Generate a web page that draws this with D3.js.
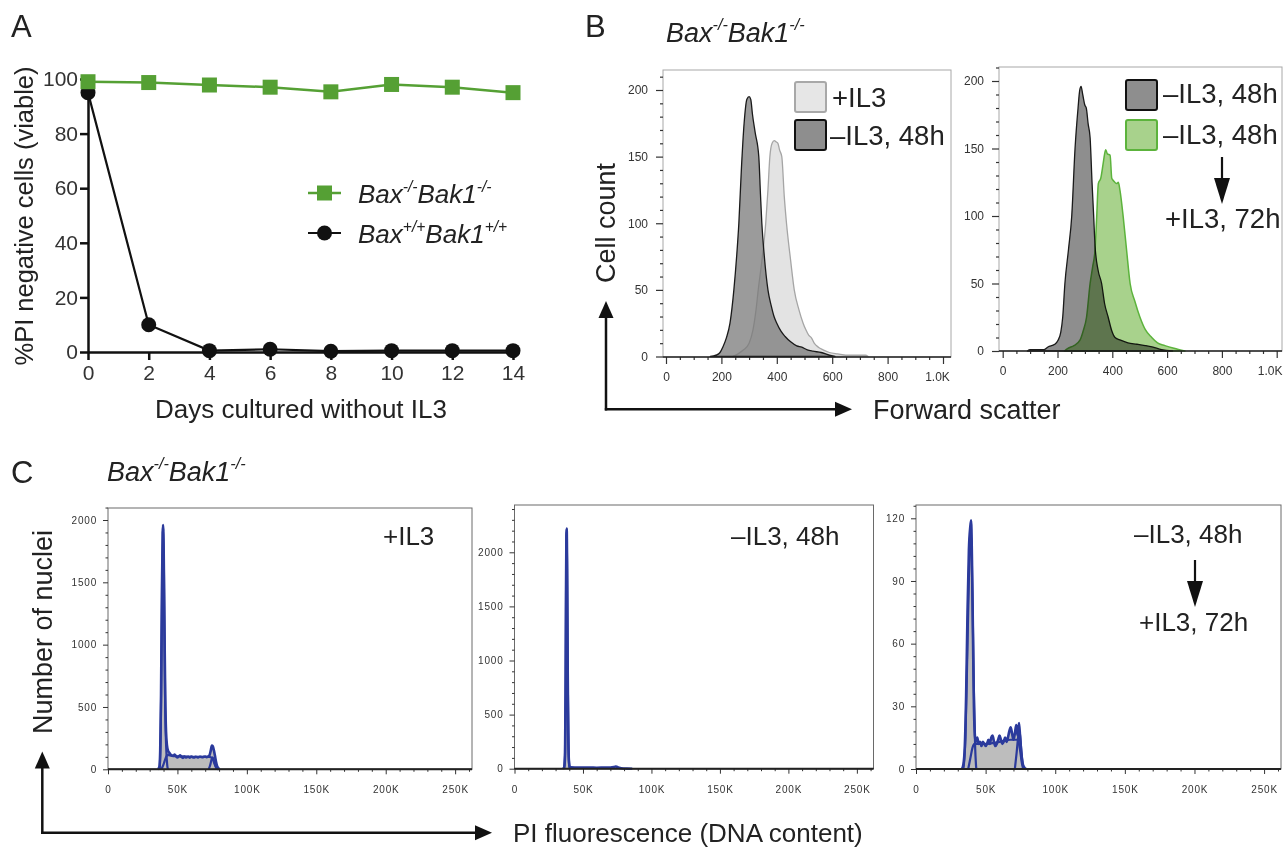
<!DOCTYPE html>
<html><head><meta charset="utf-8">
<script src="https://cdn.jsdelivr.net/npm/d3@7"></script>
<style>html,body{margin:0;padding:0;background:#fff;}svg{display:block;}</style>
</head><body>
<svg id="fig" width="1285" height="847"></svg>
<script>
// ================= DATA =================
// Panel A: viability time course
const daysA = [0, 2, 4, 6, 8, 10, 12, 14];
const viableKO = [99, 98.7, 97.8, 97, 95.3, 98, 97, 95];
const viableWT = [95, 10, 0.5, 1, 0.3, 0.5, 0.5, 0.5];
const yTicksA = [0, 20, 40, 60, 80, 100];

// Panel B: forward-scatter histograms [FSC, count]
const fscTicks = [0, 200, 400, 600, 800, 1000];
const fscTickLabels = ["0", "200", "400", "600", "800", "1.0K"];
const countTicksB = [0, 50, 100, 150, 200];
const fscPlusIL3 = [[240,0],[260,2],[280,5],[300,10],[314,20],[325,35],[333,50],[345,70],[360,100],[368,125],[375,150],[383,160],[391,162],[398,161],[404,160],[410,155],[418,150],[427,120],[435,100],[450,72],[463,50],[480,35],[495,25],[505,20],[515,16],[525,14],[535,10],[550,7],[567,5],[590,3],[620,2],[660,1],[720,1],[730,0]];
const fscMinusIL3 = [[160,0],[180,1],[195,3],[205,7],[218,14],[231,25],[245,50],[255,75],[263,100],[272,140],[282,175],[292,193],[300,195],[306,193],[312,182],[322,168],[335,150],[341,122],[346,100],[355,75],[368,50],[380,38],[390,30],[400,25],[415,19],[430,15],[450,11],[472,8],[490,7],[510,5],[530,4],[560,3],[590,1],[610,0]];
const fscMinusIL3b = [[90,0],[100,1],[150,1],[165,3],[190,5],[202,8],[212,14],[219,25],[227,50],[240,75],[252,100],[264,150],[275,180],[281,193],[286,196],[292,190],[300,182],[305,180],[312,168],[319,158],[326,125],[332,100],[337,78],[348,60],[361,50],[372,35],[385,25],[398,15],[410,10],[430,8],[457,6],[490,5],[520,4],[545,3],[580,1],[620,0]];
const fscReIL3 = [[225,0],[238,2],[260,4],[282,8],[294,15],[306,25],[319,50],[328,62],[337,75],[343,99],[349,124],[358,128],[366,138],[372,146],[376,149],[382,146],[392,145],[398,128],[405,126],[416,124],[422,125],[428,119],[440,99],[452,75],[465,50],[482,37],[501,25],[520,16],[544,10],[565,6],[592,4],[625,2],[665,0]];

// Panel C: DNA content histograms [PI (K), count] and cell-cycle model fits
const piTicks = [0, 50, 100, 150, 200, 250];
const piTickLabels = ["0", "50K", "100K", "150K", "200K", "250K"];
const nucTicksBig = [0, 500, 1000, 1500, 2000];
const nucTicksSmall = [0, 30, 60, 90, 120];
const piPlusIL3 = [[0,0],[36,0],[37,20],[37.6,150],[38.2,600],[38.8,1400],[39.4,1900],[39.7,1960],[40.1,1750],[40.6,1200],[41.2,600],[41.8,300],[42.5,190],[43.2,150],[44,135],[45,120],[46,112],[47,108],[48,118],[49,105],[50,96],[51,104],[52,112],[53,98],[54,92],[55,102],[56,95],[57,98],[58,100],[59,94],[60,103],[61,97],[62,95],[63,100],[64,98],[65,96],[66,101],[67,99],[68,97],[69,100],[70,103],[71,98],[72,102],[73,110],[74,150],[74.8,190],[75.5,185],[76.3,150],[77,110],[77.8,60],[78.6,25],[79.5,8],[80.5,0],[262,0]];
const g1PlusIL3 = [[37.2,0],[38,300],[38.8,1200],[39.5,1900],[39.9,1930],[40.5,1300],[41.2,500],[42,150],[42.8,20],[43.2,0]];
const sPlusIL3 = [[38.5,0],[40,40],[41.5,90],[43,115],[46,108],[52,104],[60,100],[68,99],[73,100],[75,90],[76.5,50],[78,10],[79,0]];
const g2PlusIL3 = [[72.5,0],[73.5,30],[74.5,75],[75.3,95],[76.2,75],[77.2,35],[78.5,5],[79.5,0]];
const piMinusIL3 = [[0,0],[35.5,0],[36.3,15],[36.9,120],[37.3,700],[37.6,1600],[37.9,2150],[38.1,2220],[38.4,1900],[38.8,1000],[39.2,350],[39.7,80],[40.3,20],[41.2,12],[45,11],[50,10],[55,10],[60,9],[65,10],[70,11],[72.5,15],[73.8,20],[75,16],[76.5,8],[78,4],[82,1],[86,0],[262,0]];
const g1MinusIL3 = [[36.2,0],[36.9,150],[37.4,900],[37.9,2150],[38.1,2210],[38.5,1700],[39,700],[39.6,120],[40.2,0]];
const piReIL3 = [[0,0],[33,0],[34,2],[35,10],[36,35],[37,75],[38,105],[39,116],[39.6,119],[40.2,100],[40.9,65],[41.6,30],[42.3,16],[43,13],[44,15],[45,12],[46,13],[47,11],[48,13],[49,12],[50,11],[51,12],[52,14],[53,12],[54,15],[55,16],[56,13],[57,11],[58,12],[59,14],[60,16],[61,14],[62,12],[63,13],[64,15],[65,13],[66,15],[67,18],[68,20],[69,17],[70,14],[71,17],[72,21],[73,16],[74,22],[74.8,15],[75.6,8],[76.5,3],[77.5,1],[79,0],[262,0]];
const g1ReIL3 = [[34,0],[35.5,15],[37,60],[38.3,100],[39.5,112],[40.5,85],[41.5,40],[42.5,10],[43.3,0]];
const sReIL3 = [[37.5,0],[39,5],[40.5,10],[42,12],[50,12],[60,13],[68,14],[73,14],[74.5,10],[76,3],[77,0]];
const g2ReIL3 = [[71,0],[72.3,8],[73.5,16],[74.5,18],[75.5,10],[76.5,3],[77.5,0]];

// ================= DRAWING =================
const FONT = "Arial, 'Liberation Sans', Helvetica, sans-serif";
const INK = "#222";
const GREEN = "#55a034";
const BLUE = "#2b3a9c";
const svg = d3.select("#fig").attr("font-family", FONT);

function txt(x, y, s, size, opts = {}) {
  const t = svg.append("text").attr("x", x).attr("y", y).attr("font-size", size)
    .attr("fill", opts.fill || INK).text(s);
  if (opts.anchor) t.attr("text-anchor", opts.anchor);
  if (opts.rotate) t.attr("transform", `rotate(-90,${x},${y})`).attr("dominant-baseline", "central");
  return t;
}
function geno(x, y, size, parts) {
  const t = svg.append("text").attr("x", x).attr("y", y).attr("font-size", size)
    .attr("font-style", "italic").attr("fill", INK);
  let raised = false;
  const rise = size * 0.42;
  parts.forEach(([s, sup]) => {
    const ts = t.append("tspan").text(s);
    if (sup) ts.attr("font-size", size * 0.6);
    if (sup && !raised) { ts.attr("dy", -rise); raised = true; }
    else if (!sup && raised) { ts.attr("dy", rise); raised = false; }
  });
  return t;
}
function arrow(x1, y1, x2, y2, head, half, sw) {
  const dx = x2 - x1, dy = y2 - y1, L = Math.hypot(dx, dy);
  const ux = dx / L, uy = dy / L;
  const bx = x2 - ux * head, by = y2 - uy * head;
  svg.append("line").attr("x1", x1).attr("y1", y1).attr("x2", bx + ux).attr("y2", by + uy)
    .attr("stroke", "#111").attr("stroke-width", sw);
  svg.append("path").attr("d", `M${x2},${y2}L${bx - uy * half},${by + ux * half}L${bx + uy * half},${by - ux * half}Z`)
    .attr("fill", "#111");
}

// ---------- Panel A ----------
const xA = d3.scaleLinear().domain([0, 14]).range([88, 513]);
const yA = d3.scaleLinear().domain([0, 100]).range([352, 79]);
const gA = svg.append("g");
const axYA = gA.append("g").attr("transform", "translate(88,0)")
  .call(d3.axisLeft(yA).tickValues(yTicksA).tickSize(8).tickSizeOuter(0).tickPadding(2));
const axXA = gA.append("g").attr("transform", "translate(0,352)")
  .call(d3.axisBottom(xA).tickValues(daysA).tickSize(8).tickSizeOuter(0).tickPadding(5));
[axYA, axXA].forEach(a => {
  a.attr("font-family", FONT).attr("font-size", 21);
  a.selectAll("text").attr("fill", "#333");
  a.selectAll("line,path").attr("stroke", "#111").attr("stroke-width", 2.5);
});
const lineA = d3.line().x((d, i) => xA(daysA[i])).y(d => yA(d));
gA.append("path").attr("d", lineA(viableWT)).attr("fill", "none").attr("stroke", "#111").attr("stroke-width", 2.2);
gA.selectAll("circle.wt").data(viableWT).join("circle").attr("class", "wt")
  .attr("cx", (d, i) => xA(daysA[i])).attr("cy", d => yA(d)).attr("r", 7.5).attr("fill", "#111");
gA.append("path").attr("d", lineA(viableKO)).attr("fill", "none").attr("stroke", GREEN).attr("stroke-width", 2.5);
gA.selectAll("rect.ko").data(viableKO).join("rect").attr("class", "ko")
  .attr("x", (d, i) => xA(daysA[i]) - 7.5).attr("y", d => yA(d) - 7.5)
  .attr("width", 15).attr("height", 15).attr("fill", GREEN);
// legend A
gA.append("line").attr("x1", 308).attr("x2", 341).attr("y1", 193).attr("y2", 193).attr("stroke", GREEN).attr("stroke-width", 2.5);
gA.append("rect").attr("x", 317).attr("y", 185.5).attr("width", 15).attr("height", 15).attr("fill", GREEN);
gA.append("line").attr("x1", 308).attr("x2", 341).attr("y1", 233).attr("y2", 233).attr("stroke", "#111").attr("stroke-width", 2.2);
gA.append("circle").attr("cx", 324.5).attr("cy", 233).attr("r", 7.5).attr("fill", "#111");
geno(358, 203, 26, [["Bax", false], ["-/-", true], ["Bak1", false], ["-/-", true]]);
geno(358, 243, 26, [["Bax", false], ["+/+", true], ["Bak1", false], ["+/+", true]]);
txt(23.5, 216, "%PI negative cells (viable)", 25.5, { anchor: "middle", rotate: true });
txt(301, 418, "Days cultured without IL3", 26, { anchor: "middle" });
txt(11, 37, "A", 31);

// ---------- Flow helpers ----------
function flowAxes(g, fr, x, y, o) {
  g.append("rect").attr("x", fr.l).attr("y", fr.t).attr("width", fr.r - fr.l).attr("height", fr.b - fr.t)
    .attr("fill", "none").attr("stroke", o.frameColor).attr("stroke-width", 1);
}
function flowTicks(g, fr, x, y, o) {
  const yMaj = g.append("g").attr("transform", `translate(${fr.l},0)`)
    .call(d3.axisLeft(y).tickValues(o.yMajor).tickSize(o.majLen).tickPadding(o.yPad).tickFormat(d3.format("d")));
  const yMin = g.append("g").attr("transform", `translate(${fr.l},0)`)
    .call(d3.axisLeft(y).tickValues(o.yMinor).tickSize(o.minLen).tickFormat(""));
  const xMaj = g.append("g").attr("transform", `translate(0,${fr.b})`)
    .call(d3.axisBottom(x).tickValues(o.xMajor).tickSize(o.majLen).tickPadding(o.xPad)
      .tickFormat(d => o.xLabels[o.xMajor.indexOf(d)]));
  const xMin = g.append("g").attr("transform", `translate(0,${fr.b})`)
    .call(d3.axisBottom(x).tickValues(o.xMinor).tickSize(o.minLen).tickFormat(""));
  [yMaj, yMin, xMaj, xMin].forEach(a => {
    a.select(".domain").remove();
    a.attr("font-family", FONT).attr("font-size", o.fontSize);
    a.selectAll("line").attr("stroke", o.tickColor).attr("stroke-width", o.tickWidth);
    a.selectAll("text").attr("fill", "#333").attr("letter-spacing", o.ls || 0);
  });
  g.append("line").attr("x1", fr.l).attr("x2", fr.r).attr("y1", fr.b).attr("y2", fr.b)
    .attr("stroke", o.axisColor).attr("stroke-width", o.axisWidth);
  return { xMaj, yMaj };
}
function histArea(g, data, x, y, fill, stroke, sw, extra) {
  const area = d3.area().x(d => x(d[0])).y0(y(0)).y1(d => y(d[1])).curve(d3.curveMonotoneX);
  const p = g.append("path").attr("d", area(data)).attr("fill", fill).attr("stroke", stroke)
    .attr("stroke-width", sw).attr("stroke-linejoin", "round");
  if (extra) extra(p);
  return p;
}
function histLine(g, data, x, y, stroke, sw) {
  const line = d3.line().x(d => x(d[0])).y(d => y(d[1])).curve(d3.curveMonotoneX);
  return g.append("path").attr("d", line(data)).attr("fill", "none").attr("stroke", stroke)
    .attr("stroke-width", sw).attr("stroke-linejoin", "round");
}

// ---------- Panel B ----------
const minorFsc = d3.range(0, 1001, 50).filter(v => !fscTicks.includes(v));
const minorCountB = d3.range(0, 211, 10).filter(v => !countTicksB.includes(v));
const optB = { frameColor: "#a8a8a8", yMajor: countTicksB, yMinor: minorCountB, xMajor: fscTicks, xLabels: fscTickLabels,
  xMinor: minorFsc, majLen: 7, minLen: 3, yPad: 8, xPad: 8, fontSize: 12, tickColor: "#333", tickWidth: 1.2,
  axisColor: "#222", axisWidth: 1.6 };

const frBL = { l: 663, r: 951, t: 70, b: 357 };
const xBL = d3.scaleLinear().domain([0, 1000]).range([666, 943]);
const yBL = d3.scaleLinear().domain([0, 200]).range([356.5, 90]);
const gBL = svg.append("g");
flowAxes(gBL, frBL, xBL, yBL, optB);
histArea(gBL, fscPlusIL3, xBL, yBL, "#e3e3e3", "#a5a5a5", 1.3);
histArea(gBL, fscMinusIL3, xBL, yBL, "#7a7a7a", "#1a1a1a", 1.3, p => p.attr("fill-opacity", 0.75));
const tBL = flowTicks(gBL, frBL, xBL, yBL, optB);
tBL.xMaj.selectAll("text").filter(d => d === 1000).attr("dx", -6);

const frBR = { l: 999, r: 1282, t: 67, b: 351 };
const xBR = d3.scaleLinear().domain([0, 1000]).range([1002.7, 1276.7]);
const yBR = d3.scaleLinear().domain([0, 200]).range([351, 81]);
const gBR = svg.append("g");
flowAxes(gBR, frBR, xBR, yBR, optB);
histArea(gBR, fscMinusIL3b, xBR, yBR, "#8e8e8e", "#1a1a1a", 1.3);
histArea(gBR, fscReIL3, xBR, yBR, "#a8d28c", "#5cb33c", 1.5, p => p.style("mix-blend-mode", "multiply"));
const tBR = flowTicks(gBR, frBR, xBR, yBR, optB);
tBR.xMaj.selectAll("text").filter(d => d === 1000).attr("dx", -7);

// legends B
svg.append("rect").attr("x", 795).attr("y", 82).attr("width", 31).attr("height", 30).attr("rx", 2)
  .attr("fill", "#e6e6e6").attr("stroke", "#a8a8a8").attr("stroke-width", 2);
svg.append("rect").attr("x", 795).attr("y", 120).attr("width", 31).attr("height", 30).attr("rx", 2)
  .attr("fill", "#8e8e8e").attr("stroke", "#111").attr("stroke-width", 2);
txt(832, 107, "+IL3", 27.5);
txt(830, 145, "\u2013IL3, 48h", 27.5);
svg.append("rect").attr("x", 1126).attr("y", 80).attr("width", 31).attr("height", 30).attr("rx", 2)
  .attr("fill", "#8e8e8e").attr("stroke", "#111").attr("stroke-width", 2);
svg.append("rect").attr("x", 1126).attr("y", 120).attr("width", 31).attr("height", 30).attr("rx", 2)
  .attr("fill", "#a8d28c").attr("stroke", "#5cb33c").attr("stroke-width", 2);
txt(1163, 103, "\u2013IL3, 48h", 27.5);
txt(1163, 144, "\u2013IL3, 48h", 27.5);
arrow(1222, 157, 1222, 204, 26, 8, 2.2);
txt(1165, 228, "+IL3, 72h", 27.5);

txt(585, 37, "B", 31);
geno(666, 41.7, 27, [["Bax", false], ["-/-", true], ["Bak1", false], ["-/-", true]]);
txt(606, 223, "Cell count", 27, { anchor: "middle", rotate: true });
txt(873, 419, "Forward scatter", 27);
// axis-direction arrows B
arrow(606, 410.5, 606, 301, 17, 7.5, 2.5);
arrow(604.8, 409.3, 852, 409.3, 17, 7.5, 2.5);

// ---------- Panel C ----------
const minorPi = d3.range(0, 261, 10).filter(v => !piTicks.includes(v));
const optC = { frameColor: "#6a6a6a", xMajor: piTicks, xLabels: piTickLabels, xMinor: minorPi,
  majLen: 5, minLen: 2.5, yPad: 6, xPad: 12, fontSize: 10, ls: 0.8, tickColor: "#333", tickWidth: 1,
  axisColor: "#222", axisWidth: 2 };

function dnaPanel(fr, yDomainTicks, yMinor, yScale, data, comps) {
  const x = d3.scaleLinear().domain([0, 262.144]).range([fr.l, fr.r]);
  const g = svg.append("g");
  flowAxes(g, fr, x, yScale, optC);
  histArea(g, data, x, yScale, "#bdbdbd", "#1a1a1a", 0.9);
  comps.forEach(c => histLine(g, c, x, yScale, BLUE, 2.2));
  histLine(g, data.slice(1, -1), x, yScale, BLUE, 2.6);
  flowTicks(g, fr, x, yScale, Object.assign({}, optC, { yMajor: yDomainTicks, yMinor: yMinor }));
  return g;
}
const frCL = { l: 108, r: 472, t: 508, b: 769.3 };
dnaPanel(frCL, nucTicksBig, d3.range(0, 2101, 100).filter(v => !nucTicksBig.includes(v)),
  d3.scaleLinear().domain([0, 2000]).range([769.3, 520]), piPlusIL3, [g1PlusIL3, sPlusIL3, g2PlusIL3]);
const frCM = { l: 514.5, r: 873.5, t: 505, b: 768.7 };
dnaPanel(frCM, nucTicksBig, d3.range(0, 2401, 100).filter(v => !nucTicksBig.includes(v)),
  d3.scaleLinear().domain([0, 2000]).range([768.7, 552.3]), piMinusIL3, [g1MinusIL3]);
const frCR = { l: 916, r: 1281, t: 505, b: 769 };
dnaPanel(frCR, nucTicksSmall, d3.range(0, 127, 6).filter(v => !nucTicksSmall.includes(v)),
  d3.scaleLinear().domain([0, 120]).range([769, 518.3]), piReIL3, [g1ReIL3, sReIL3, g2ReIL3]);

txt(383, 545, "+IL3", 26);
txt(731, 545, "\u2013IL3, 48h", 26);
txt(1134, 543, "\u2013IL3, 48h", 26);
arrow(1195, 560, 1195, 607, 26, 8, 2.2);
txt(1139, 631, "+IL3, 72h", 26);

txt(11, 483, "C", 31);
geno(107, 480.7, 27, [["Bax", false], ["-/-", true], ["Bak1", false], ["-/-", true]]);
txt(43, 632, "Number of nuclei", 27, { anchor: "middle", rotate: true });
txt(513, 842, "PI fluorescence (DNA content)", 26);
arrow(42.3, 834, 42.3, 751.5, 17, 7.5, 2.5);
arrow(41, 832.7, 492, 832.7, 17, 7.5, 2.5);
</script>
</body></html>
